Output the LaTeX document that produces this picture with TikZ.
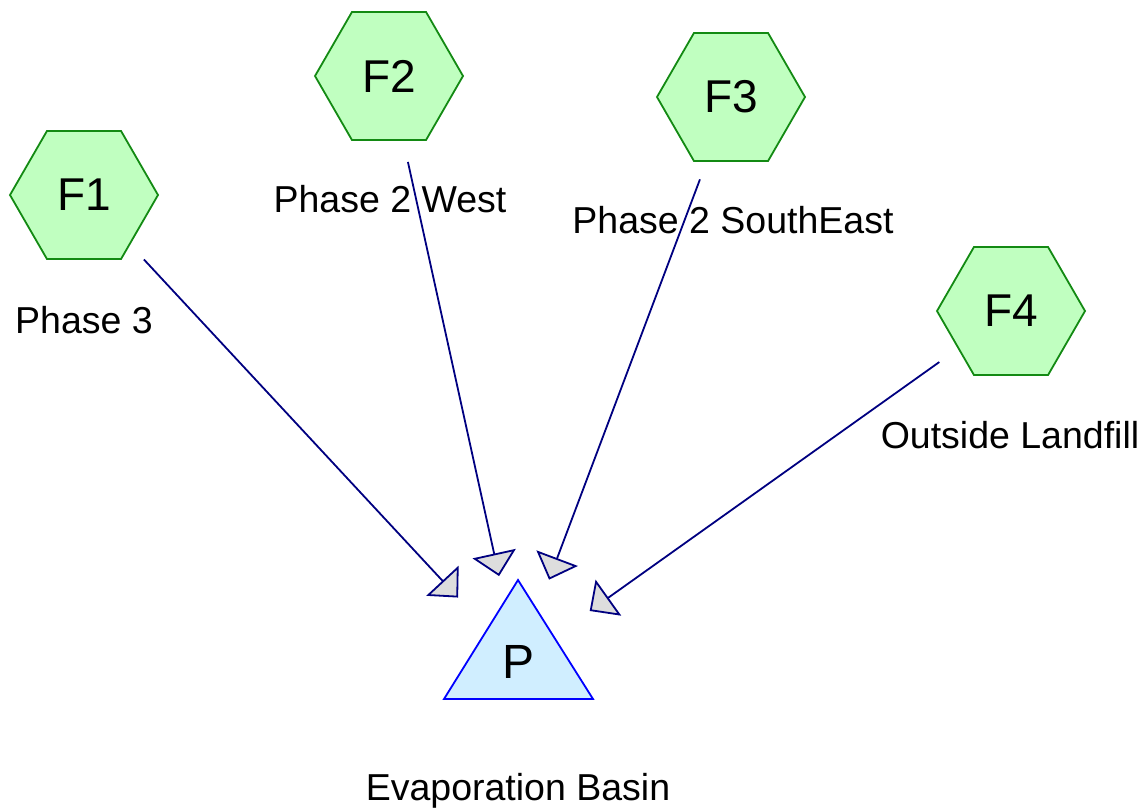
\documentclass[tikz,border=0pt]{standalone}
\usepackage{fontspec}
\setmainfont{Liberation Sans}
\usepackage{tikz}
\usetikzlibrary{arrows.meta,shapes.geometric}
\definecolor{hexfill}{HTML}{C0FFC0}
\definecolor{hexline}{HTML}{138A13}
\definecolor{basinfill}{HTML}{D0EEFF}
\definecolor{flowline}{HTML}{000080}
\definecolor{tipfill}{HTML}{DDDDDD}

\begin{document}
\begin{tikzpicture}[x=1pt, y=-1pt,
  hexnode/.style={regular polygon, regular polygon sides=6, minimum size=148pt,
    inner sep=0pt, draw=hexline, fill=hexfill, line width=1.8pt,
    font=\fontsize{46}{50}\selectfont},
  basin/.style={draw=blue, fill=basinfill, line width=1.8pt, line join=miter},
  flow/.style={draw=flowline, line width=1.8pt, shorten <=88pt, shorten >=88pt,
    -{Triangle[length=23pt, width=44pt, fill=tipfill]}},
  lbl/.style={anchor=base, inner sep=0pt, font=\fontsize{37.5}{41}\selectfont}]
  \useasboundingbox (0,0) rectangle (1147,809);

  % evaporation basin
  \draw[basin] (518,580) -- (593,699) -- (444,699) -- cycle;
  \node[inner sep=0pt, font=\fontsize{48}{52}\selectfont] (P) at (518,662) {P};
  \node[lbl] (P label) at (518,800) {Evaporation Basin};

  % sources
  \foreach \n/\x/\y in {F1/84/195, F2/389/76, F3/731/97, F4/1011/311}
    \node[hexnode] (\n) at (\x,\y) {\n};

  % labels
  \node[lbl] (F1 label) at (84,333) {Phase 3};
  \node[lbl] (F2 label) at (390,212) {Phase 2 West};
  \node[lbl] (F3 label) at (733,233) {Phase 2 SouthEast};
  \node[lbl] (F4 label) at (1010,448) {Outside Landfill};

  % flows
  \foreach \n in {F1,F2,F3,F4}
    \draw[flow] (\n.center) -- (P.center);
\end{tikzpicture}
\end{document}
